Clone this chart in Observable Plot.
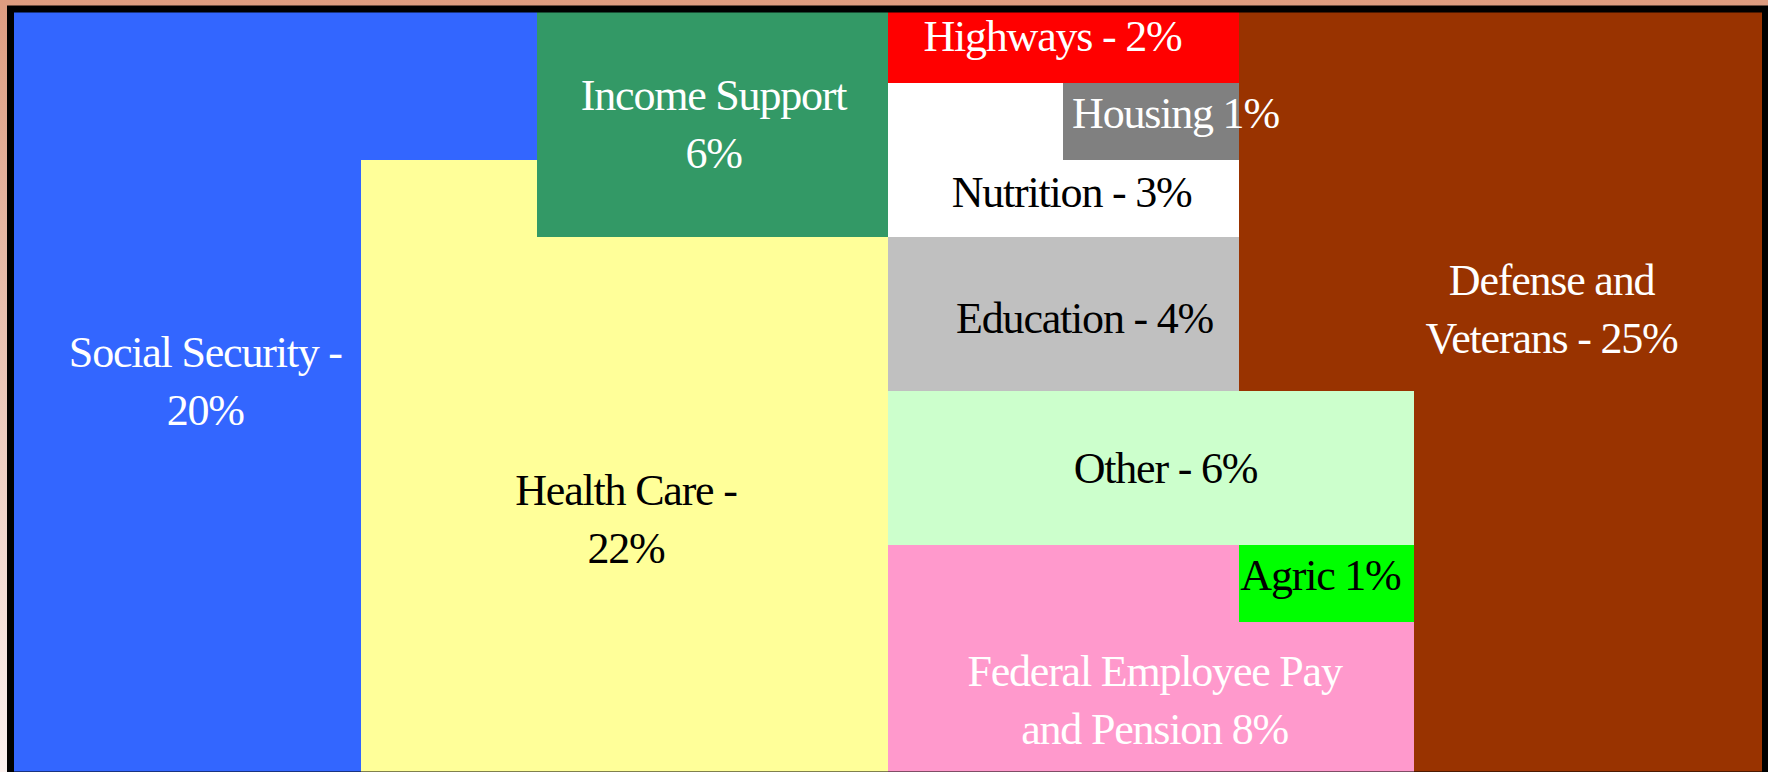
<!DOCTYPE html>
<html>
<head>
<meta charset="utf-8">
<script src="https://cdn.jsdelivr.net/npm/d3@7"></script>
<script src="https://cdn.jsdelivr.net/npm/@observablehq/plot@0.6"></script>
<style>
  html, body { margin: 0; padding: 0; overflow: hidden; }
  body {
    width: 1768px; height: 772px;
    background: linear-gradient(to bottom, #DE9C80 0%, #E9BFAE 40%, #FBF1EF 100%);
  }
</style>
</head>
<body>
<div id="chart"></div>
<script>
// Category codes, names, colours and shares (percent of the federal budget)
const codes      = ["S", "H", "I", "W", "U", "N", "E", "O", "F", "A", "D"];
const categories = ["Social Security", "Health Care", "Income Support", "Highways", "Housing",
                    "Nutrition", "Education", "Other", "Federal Employee Pay and Pension",
                    "Agriculture", "Defense and Veterans"];
const colors     = ["#3366FF", "#FFFF99", "#339966", "#FF0000", "#808080",
                    "#FFFFFF", "#C0C0C0", "#CCFFCC", "#FF99CC", "#00FF00", "#993300"];
const percents   = [20, 22, 6, 2, 1, 3, 4, 6, 8, 1, 25];

// 10 x 10 grid: every cell is one percent
const grid = [
  "SSSIIWWDDD",
  "SSSIINUDDD",
  "SSHIINNDDD",
  "SSHHHEEDDD",
  "SSHHHEEDDD",
  "SSHHHOOODD",
  "SSHHHOOODD",
  "SSHHHFFADD",
  "SSHHHFFFDD",
  "SSHHHFFFDD"
];

// Label texts, their colours and anchors (in grid units; y = baseline of last line)
const labelTexts  = ["Social Security -\n20%", "Health Care -\n22%", "Income Support\n6%",
                     "Highways - 2%", "Housing 1%", "Nutrition - 3%", "Education - 4%",
                     "Other - 6%", "Federal Employee Pay\nand Pension 8%", "Agric 1%",
                     "Defense and\nVeterans - 25%"];
const labelColors = ["white", "black", "white", "white", "white", "black", "black",
                     "black", "white", "black", "white"];
const labelX      = [1.11, 3.507, 4.006, 5.937, 6.638, 6.046, 6.12, 6.581, 6.519, 7.464, 8.781];
const labelY      = [5.429, 7.221, 2.091, 0.584, 1.584, 2.61, 4.234, 6.182, 9.584, 7.584, 4.506];

const cells = grid.flatMap((row, r) => [...row].map((code, c) => ({col: c, row: r, code})));
const labels = labelTexts.map((t, i) => ({text: t, x: labelX[i], y: labelY[i], color: labelColors[i]}));

const fontSize = 44;
const chart = Plot.plot({
  width: 1768,
  height: 780,
  marginLeft: 10,
  marginRight: 3,
  marginTop: 6,
  marginBottom: 4,
  style: {background: "transparent", letterSpacing: "-1.2px", overflow: "visible"},
  x: {domain: [0, 10], axis: null},
  y: {domain: [0, 10], reverse: true, axis: null},
  color: {type: "ordinal", domain: codes, range: colors},
  marks: [
    Plot.rect(cells, {
      x1: "col", x2: d => d.col + 1,
      y1: "row", y2: d => d.row + 1,
      fill: "code",
      shapeRendering: "crispEdges"
    }),
    Plot.text(labels, {
      x: "x", y: "y", text: "text",
      fill: d => d.color,
      fontSize,
      fontFamily: "'Liberation Serif', 'Times New Roman', serif",
      lineAnchor: "bottom",
      lineHeight: 58 / fontSize,
      textAnchor: "middle"
    }),
    Plot.frame({stroke: "black", strokeWidth: 7, insetTop: 2.5, insetBottom: 1.5})
  ]
});
document.getElementById("chart").appendChild(chart);
</script>
</body>
</html>
